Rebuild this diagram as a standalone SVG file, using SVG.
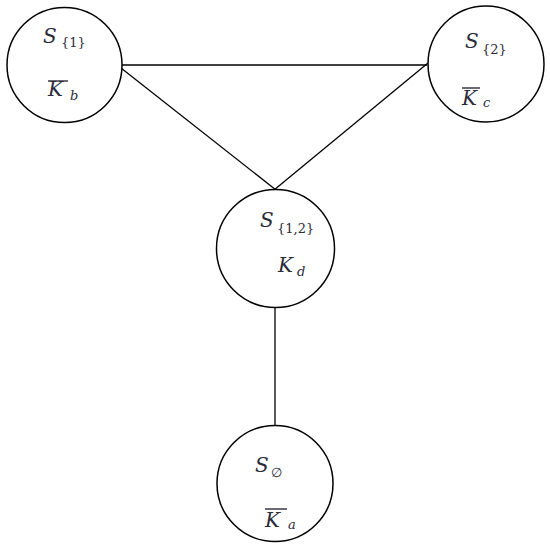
<svg xmlns="http://www.w3.org/2000/svg" width="550" height="551" viewBox="0 0 550 551">
<style>
.node{fill:#fff;stroke:#000;stroke-width:1.5}
.edge{stroke:#000;stroke-width:1.3;fill:none}
.m{font-family:"DejaVu Serif","Liberation Serif",serif;font-style:italic;font-size:20px;fill:#2b2b3a}
.s{font-family:"DejaVu Serif","Liberation Serif",serif;font-size:13px;fill:#2b2b3a}
.si{font-family:"DejaVu Serif","Liberation Serif",serif;font-style:italic;font-size:13px;fill:#2b2b3a}
.bar{stroke:#2b2b3a;stroke-width:1.4}
</style>
<g id="connectors">
<line class="edge" x1="122" y1="65" x2="427" y2="65"/>
<line class="edge" x1="121" y1="68" x2="276" y2="190"/>
<line class="edge" x1="428" y1="63" x2="274" y2="190"/>
<line class="edge" x1="275" y1="307" x2="275" y2="425"/>
</g>
<g id="S1">
<circle class="node" cx="64.5" cy="65" r="57.5"/>
<text class="m" x="43" y="43">S</text><text class="s" x="61" y="47">{1}</text>
<line class="bar" x1="48" y1="81" x2="68" y2="81"/>
<text class="m" x="48" y="96">K</text><text class="si" x="70" y="100">b</text>
</g>
<g id="S2">
<circle class="node" cx="486" cy="64" r="58"/>
<text class="m" x="465" y="48">S</text><text class="s" x="482" y="54">{2}</text>
<line class="bar" x1="462" y1="88" x2="480" y2="88"/>
<text class="m" x="462" y="105">K</text><text class="si" x="483" y="107">c</text>
</g>
<g id="S12">
<circle class="node" cx="275.5" cy="248.5" r="59"/>
<text class="m" x="260" y="227">S</text><text class="s" x="277" y="233">{1,2}</text>
<text class="m" x="278" y="272">K</text><text class="si" x="297" y="276">d</text>
</g>
<g id="S0">
<circle class="node" cx="275" cy="483.5" r="58"/>
<text class="m" x="255" y="472">S</text><text class="s" x="271" y="477">∅</text>
<line class="bar" x1="265" y1="509" x2="287" y2="509"/>
<text class="m" x="265" y="527">K</text><text class="si" x="288" y="529">a</text>
</g>
</svg>
